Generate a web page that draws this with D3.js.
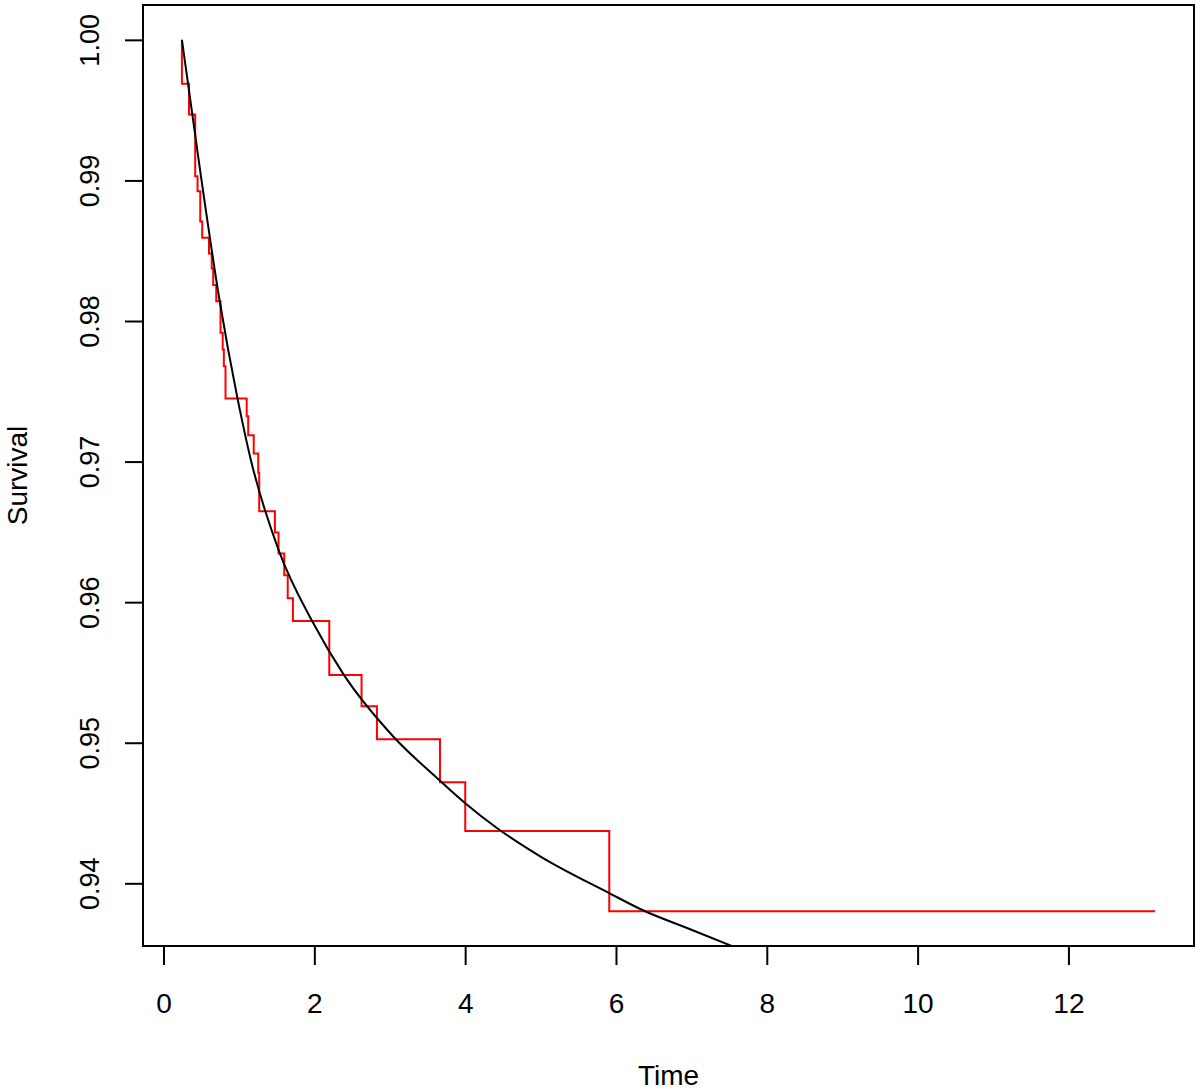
<!DOCTYPE html>
<html>
<head>
<meta charset="utf-8">
<script src="https://cdn.jsdelivr.net/npm/d3@7"></script>
<style>
    body { margin: 0; background: #fff; }
    svg text { font-family: "Liberation Sans", Arial, Helvetica, sans-serif; fill: #000; }
</style>
</head>
<body>
<div id="content"></div>
<script>
// Kaplan-Meier steps (red): start point followed by event times / survival after each drop
var kmTime = [0.244, 0.244, 0.338, 0.420, 0.451, 0.487, 0.513, 0.603, 0.639, 0.659, 0.699,
              0.756, 0.785, 0.800, 0.822, 1.103, 1.123, 1.196, 1.256, 1.269, 1.477, 1.525,
              1.601, 1.647, 1.716, 2.198, 2.626, 2.830, 3.666, 4.001, 5.911, 13.149];
var kmSurv = [1.0000, 0.99687, 0.99469, 0.99030, 0.98923, 0.98708, 0.98592, 0.98480, 0.98373,
              0.98256, 0.98141, 0.97916, 0.97797, 0.97679, 0.97449, 0.97322, 0.97188, 0.97058,
              0.96920, 0.96647, 0.96496, 0.96346, 0.96192, 0.96028, 0.95866, 0.95481, 0.95260,
              0.95024, 0.94719, 0.94373, 0.93802, 0.93802];

// fitted model curve (black)
var modelTime = [0.244, 0.496, 0.739, 0.981, 1.159, 1.534, 1.976, 2.383, 3.037,
                 3.666, 4.001, 4.430, 5.000, 5.911, 6.350, 7.000, 7.600];
var modelSurv = [1.0000, 0.9903, 0.9816, 0.9745, 0.9701, 0.9636, 0.9586, 0.9549, 0.9505,
                 0.9473, 0.9457, 0.9439, 0.9419, 0.9393, 0.9381, 0.9367, 0.9354];

var xTicks = [0, 2, 4, 6, 8, 10, 12];
var yTicks = [0.94, 0.95, 0.96, 0.97, 0.98, 0.99, 1.00];

var survivalPlot = (function () {

    "use strict";

    var width = 1200,
        height = 1090,
        margin = {top: 5, right: 6, bottom: 144, left: 143};

    function render() {
        var svg = d3.select("#content").append("svg")
            .attr("width", width)
            .attr("height", height);

        var innerW = width - margin.left - margin.right,
            innerH = height - margin.top - margin.bottom;

        // R style axis extension (4%) on both ranges
        var xMin = d3.min(kmTime), xMax = d3.max(kmTime),
            yMin = d3.min(kmSurv), yMax = d3.max(kmSurv),
            dx = (xMax - xMin) * 0.04,
            dy = (yMax - yMin) * 0.04;

        var x = d3.scaleLinear().domain([xMin - dx, xMax + dx]).range([0, innerW]),
            y = d3.scaleLinear().domain([yMin - dy, yMax + dy]).range([innerH, 0]);

        var g = svg.append("g")
            .attr("transform", "translate(" + margin.left + "," + margin.top + ")");

        svg.append("defs").append("clipPath")
            .attr("id", "plotClip")
            .append("rect")
            .attr("width", innerW)
            .attr("height", innerH);

        var plot = g.append("g").attr("clip-path", "url(#plotClip)");

        var kmLine = d3.line()
            .x(function (d) { return x(d[0]); })
            .y(function (d) { return y(d[1]); })
            .curve(d3.curveStepAfter);

        var modelLine = d3.line()
            .x(function (d) { return x(d[0]); })
            .y(function (d) { return y(d[1]); })
            .curve(d3.curveMonotoneX);

        plot.append("path")
            .datum(d3.zip(kmTime, kmSurv))
            .attr("d", kmLine)
            .attr("fill", "none")
            .attr("stroke", "#ff0000")
            .attr("stroke-width", 2);

        plot.append("path")
            .datum(d3.zip(modelTime, modelSurv))
            .attr("d", modelLine)
            .attr("fill", "none")
            .attr("stroke", "#000")
            .attr("stroke-width", 2);

        // box
        g.append("rect")
            .attr("width", innerW)
            .attr("height", innerH)
            .attr("fill", "none")
            .attr("stroke", "#000")
            .attr("stroke-width", 2);

        var xAxis = g.append("g")
            .attr("transform", "translate(0," + innerH + ")")
            .call(d3.axisBottom(x).tickValues(xTicks).tickSize(19).tickFormat(d3.format("d")));
        xAxis.select(".domain").remove();
        xAxis.selectAll(".tick line").attr("stroke-width", 2);
        xAxis.selectAll(".tick text")
            .attr("y", 67)
            .attr("dy", 0)
            .style("font-size", "28px");

        var yAxis = g.append("g")
            .call(d3.axisLeft(y).tickValues(yTicks).tickSize(18).tickFormat(d3.format(".2f")));
        yAxis.select(".domain").remove();
        yAxis.selectAll(".tick line").attr("stroke-width", 2);
        yAxis.selectAll(".tick text")
            .attr("transform", "rotate(-90)")
            .attr("x", 0)
            .attr("y", -44)
            .attr("dy", 0)
            .attr("text-anchor", "middle")
            .style("font-size", "27px");

        svg.append("text")
            .attr("x", margin.left + innerW / 2)
            .attr("y", 1085)
            .attr("text-anchor", "middle")
            .style("font-size", "28px")
            .text("Time");

        svg.append("text")
            .attr("transform", "translate(27," + (margin.top + innerH / 2) + ") rotate(-90)")
            .attr("text-anchor", "middle")
            .style("font-size", "28px")
            .text("Survival");
    }

    return {
        render: render
    };

}());

survivalPlot.render();
</script>
</body>
</html>
